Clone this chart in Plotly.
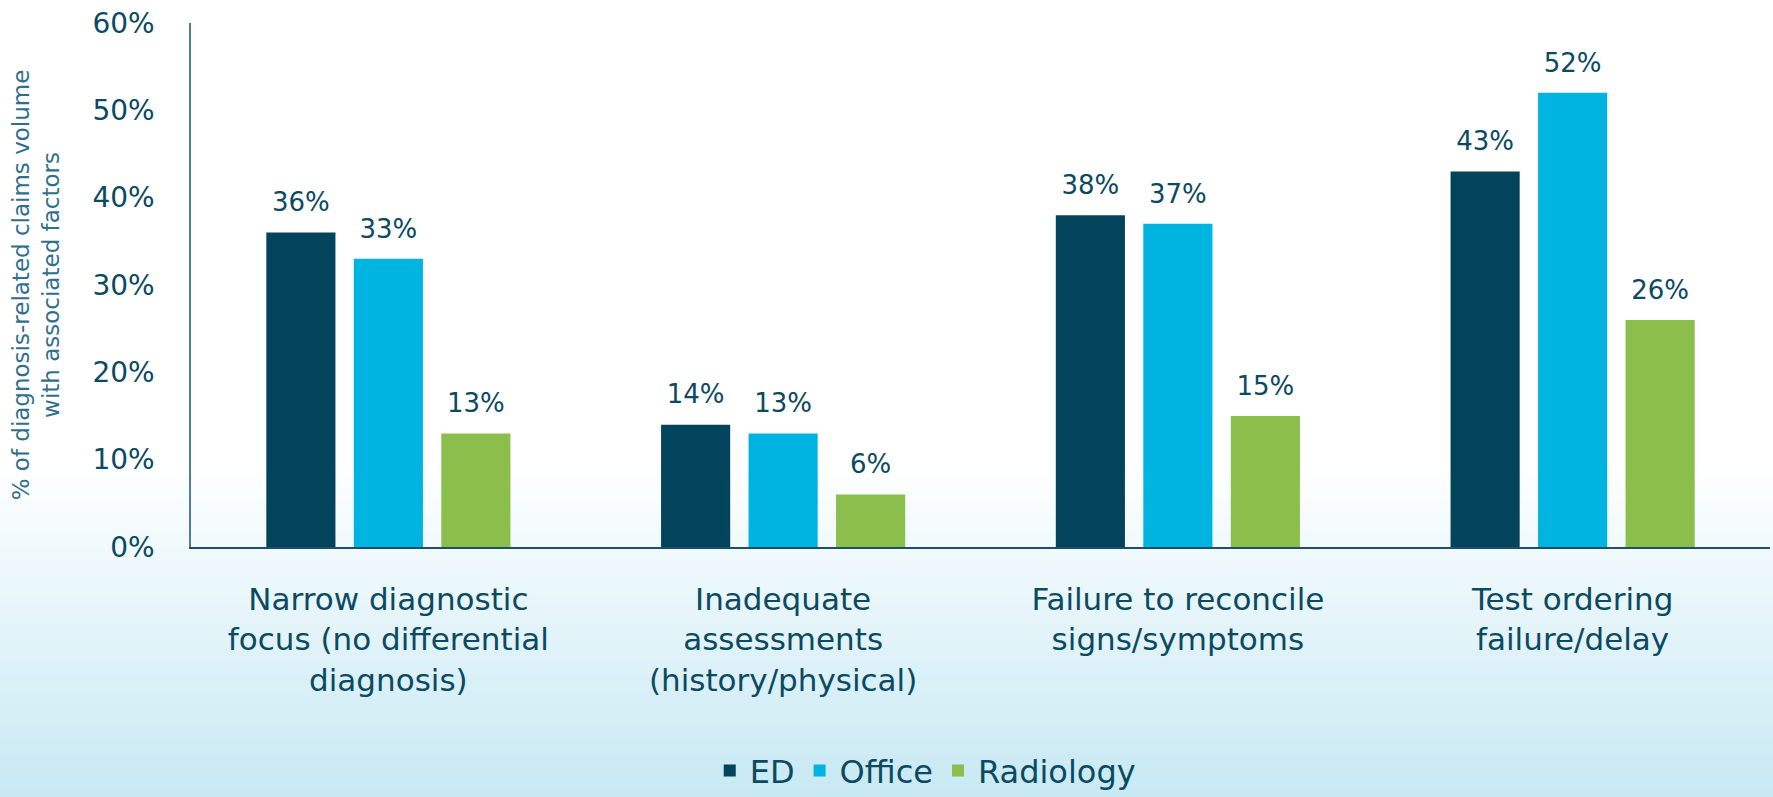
import plotly.graph_objects as go

categories = [
    "Narrow diagnostic<br>focus (no differential<br>diagnosis)",
    "Inadequate<br>assessments<br>(history/physical)",
    "Failure to reconcile<br>signs/symptoms",
    "Test ordering<br>failure/delay",
]
series_names = ["ED", "Office", "Radiology"]
ed_values = [36, 14, 38, 43]
office_values = [33, 13, 37, 52]
radiology_values = [13, 6, 15, 26]
y_tick_values = [0, 10, 20, 30, 40, 50, 60]
y_tick_labels = ["0%", "10%", "20%", "30%", "40%", "50%", "60%"]

_FONT = "DejaVu Sans"
_TEXT = "#0B4A62"
_COLORS = ["#03445D", "#00B4E1", "#8BBE4B"]

fig = go.Figure()

for name, vals, color in zip(series_names, [ed_values, office_values, radiology_values], _COLORS):
    fig.add_trace(go.Bar(
        x=categories,
        y=vals,
        name=name,
        marker_color=color,
        marker_line_width=0,
        hoverinfo="skip",
    ))

# labels above the bars (grouped scatter so they line up with the bars)
for name, vals in zip(series_names, [ed_values, office_values, radiology_values]):
    fig.add_trace(go.Scatter(
        x=categories,
        y=vals,
        mode="markers+text",
        text=[f"{v}%" for v in vals],
        textposition="top center",
        textfont=dict(family=_FONT, size=26, color=_TEXT),
        marker=dict(size=22, opacity=0),
        showlegend=False,
        hoverinfo="skip",
        cliponaxis=False,
    ))

# background gradient (white -> light blue) in the lower part
shapes = []
n_strips = 70
g_top, g_bot = 0.16, -0.50
c0 = (255, 255, 255)
c1 = (197, 232, 243)
for i in range(n_strips):
    f = (i + 0.5) / n_strips
    col = tuple(round(a + (b - a) * f) for a, b in zip(c0, c1))
    y1 = g_top + (g_bot - g_top) * i / n_strips
    y0 = g_top + (g_bot - g_top) * (i + 1) / n_strips
    shapes.append(dict(
        type="rect", xref="paper", yref="paper",
        x0=-0.2, x1=1.05, y0=y0, y1=y1 + 0.002,
        fillcolor="rgb(%d,%d,%d)" % col, line_width=0, layer="below",
    ))

fig.update_layout(
    width=1773,
    height=797,
    barmode="group",
    bargap=0.335,
    bargroupgap=0.21,
    scattermode="group",
    scattergap=0.335,
    paper_bgcolor="white",
    plot_bgcolor="rgba(0,0,0,0)",
    margin=dict(l=191, r=3, t=23, b=250, autoexpand=False),
    font=dict(family=_FONT, color=_TEXT),
    shapes=shapes,
    showlegend=True,
    legend=dict(
        orientation="h",
        xref="paper", x=0.465, xanchor="center",
        yref="container", y=0.033, yanchor="middle",
        font=dict(family=_FONT, size=32, color=_TEXT),
        bgcolor="rgba(0,0,0,0)",
        traceorder="normal",
    ),
    xaxis=dict(
        showline=True,
        linecolor="#1E4F66",
        linewidth=1.5,
        showgrid=False,
        ticks="",
        tickfont=dict(family=_FONT, size=31, color=_TEXT),
        ticklabelstandoff=24,
        fixedrange=True,
    ),
    yaxis=dict(
        range=[0, 60],
        tickvals=y_tick_values,
        ticktext=y_tick_labels,
        showline=True,
        linecolor="#4F7F93",
        linewidth=1.5,
        showgrid=False,
        zeroline=False,
        ticks="",
        tickfont=dict(family=_FONT, size=28, color=_TEXT),
        ticklabelstandoff=29,
        fixedrange=True,
        title=dict(
            text="% of diagnosis-related claims volume<br>with associated factors",
            font=dict(family=_FONT, size=23, color="#2F6F8C"),
            standoff=26,
        ),
    ),
)

fig.write_html(
    "out.html",
    config={"displayModeBar": False},
    post_script="document.body.style.margin='0';",
)
